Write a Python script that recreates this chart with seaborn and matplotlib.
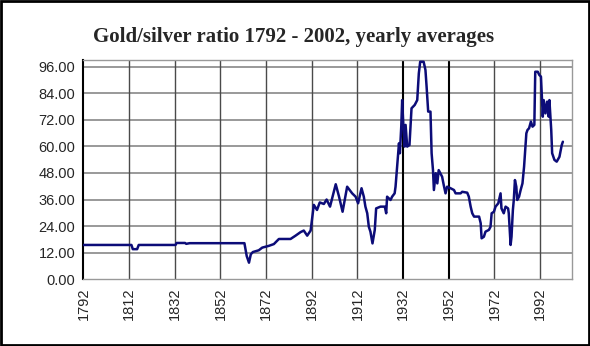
import matplotlib
matplotlib.use("Agg")
import matplotlib.pyplot as plt
import seaborn as sns
from matplotlib.patches import Rectangle

# Gold/silver ratio (year, ratio)
year = [1792, 1813, 1813.6, 1815.5, 1816.2, 1832.3, 1832.8, 1836.5, 1837, 1838.5,
        1862.5, 1863.5, 1864.5, 1865.3, 1866.2, 1868.8, 1870.3, 1873.2, 1875.4, 1877.6,
        1882.7, 1884.9, 1887.1, 1888.5, 1890, 1891.5, 1892.9, 1894.3, 1895.5, 1897.3,
        1898.5, 1900, 1902.5, 1903.9, 1905.5, 1907.5, 1909.7, 1911.2, 1912.3, 1913.8,
        1914.8, 1915.5, 1916.3, 1917, 1917.7, 1918.6, 1919.6, 1920.2, 1922.1, 1924,
        1924.6, 1925, 1926.5, 1927.2, 1928.3, 1928.7, 1929.7, 1930.2, 1930.6, 1931.2,
        1931.6, 1932, 1932.7, 1933.1, 1933.8, 1934.8, 1935.3, 1935.7, 1937.1, 1938.2,
        1938.9, 1939.5, 1941, 1941.8, 1942.3, 1943, 1944, 1944.5, 1945.1, 1945.5,
        1946.3, 1947, 1947.6, 1949.1, 1949.8, 1950.6, 1951.3, 1952.8, 1954.3, 1955,
        1957.2, 1957.9, 1960.1, 1960.8, 1961.6, 1962.3, 1963.1, 1965.3, 1966, 1966.4,
        1967.4, 1968.1, 1969.6, 1970.3, 1970.8, 1971.8, 1972.5, 1973.7, 1974.7, 1975.1,
        1976.1, 1976.9, 1978, 1978.3, 1979.1, 1979.5, 1980.1, 1980.5, 1981, 1981.6,
        1982, 1982.8, 1983.5, 1984.3, 1985, 1985.5, 1986, 1986.5, 1987.2, 1988,
        1988.7, 1989.5, 1989.9, 1991, 1991.7, 1992.4, 1993.2, 1993.6, 1994.4, 1995.1,
        1995.8, 1996.1, 1996.9, 1997.3, 1998.3, 1999.3, 2000.5, 2001.5, 2002]
ratio = [15.5, 15.5, 13.6, 13.6, 15.5, 15.5, 16.4, 16.4, 16.0, 16.3,
         16.3, 10.5, 7.5, 11.3, 12.3, 13.1, 14.3, 15.1, 15.9, 18.2,
         18.2, 19.7, 21.3, 22.0, 19.7, 22.0, 33.6, 31.3, 34.7, 34.0,
         36.0, 32.8, 42.9, 37.5, 30.5, 41.8, 38.8, 37.3, 34.3, 41.1,
         37.3, 32.8, 29.8, 23.7, 21.5, 16.2, 22.3, 32.0, 32.8, 32.8,
         29.8, 37.3, 35.8, 37.3, 38.8, 41.8, 55.3, 61.4, 56.9, 68.9,
         80.9, 71.9, 59.9, 69.7, 59.9, 60.6, 69.7, 77.2, 78.7, 80.9,
         93.0, 98.2, 98.2, 94.5, 87.0, 75.7, 75.7, 56.9, 49.3, 40.3,
         47.9, 43.3, 49.3, 46.3, 42.6, 38.8, 41.8, 41.1, 40.3, 38.8,
         38.8, 39.5, 39.1, 37.3, 32.8, 29.8, 28.3, 28.3, 25.3, 18.5,
         19.2, 21.5, 22.3, 23.7, 29.8, 30.5, 32.8, 34.3, 38.8, 32.0,
         29.8, 32.8, 32.0, 29.8, 15.5, 19.2, 31.3, 35.8, 44.8, 41.8,
         35.8, 37.3, 40.3, 43.3, 50.8, 58.4, 65.9, 67.4, 68.2, 71.2,
         68.9, 69.7, 93.7, 93.7, 92.2, 91.5, 73.4, 80.9, 74.9, 80.2,
         73.4, 80.9, 67.4, 56.9, 53.9, 53.1, 55.3, 60.6, 62.1]

x_ticks = list(range(1792, 2002, 20))
y_ticks = list(range(0, 97, 12))

sns.set_style("white")
plt.rcParams['font.family'] = ['Liberation Sans', 'DejaVu Sans']

fig = plt.figure(figsize=(5.9, 3.46), dpi=100)
ax = fig.add_axes([0.1415, 0.1928, 0.828, 0.6338])

# grid first so the line sits on top
for yv in y_ticks[1:]:
    ax.axhline(yv, color="#888888", lw=1.2, zorder=1)
for xv in x_ticks[1:]:
    dark = xv in (1932, 1952)
    ax.axvline(xv, color="black" if dark else "#4a4a4a", lw=1.5 if dark else 1.0, zorder=1)

sns.lineplot(x=year, y=ratio, ax=ax, color="#0c0c78", lw=1.8, estimator=None, zorder=3)

ax.set_xlim(1792, 2006)
ax.set_ylim(0, 99)
ax.set_xticks(x_ticks)
ax.set_xticklabels([str(t) for t in x_ticks], rotation=90, fontsize=10.5)
ax.set_yticks(y_ticks)
ax.set_yticklabels([f"{t:.2f}" for t in y_ticks], fontsize=10.5)
ax.tick_params(axis="both", direction="out", length=4, width=1, color="black", pad=2)
ax.set_xlabel("")
ax.set_ylabel("")

for side in ("top", "right", "bottom"):
    ax.spines[side].set_visible(True)
    ax.spines[side].set_color("#999999")
    ax.spines[side].set_linewidth(1.0)
ax.spines["left"].set_color("black")
ax.spines["left"].set_linewidth(1.5)

fig.text(294 / 590, 1 - 37 / 346, "Gold/silver ratio 1792 - 2002, yearly averages",
         ha="center", va="center", fontsize=15, fontweight="bold",
         family=["Liberation Serif", "DejaVu Serif"])

# black frame round the whole picture
fig.patches.append(Rectangle((0.002, 0.004), 0.996, 0.992, transform=fig.transFigure,
                             fill=False, edgecolor="black", lw=2))

fig.savefig("out.png", dpi=100)
